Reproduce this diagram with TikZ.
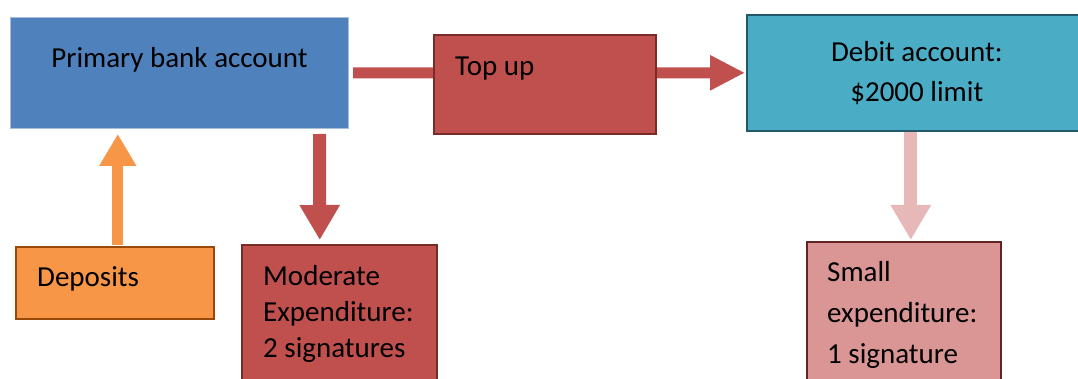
\documentclass[tikz,border=0pt]{standalone}
\usepackage{fontspec}
\setmainfont{Carlito}
\usetikzlibrary{arrows.meta, positioning, backgrounds}
\definecolor{primaryblue}{HTML}{4F81BD}
\definecolor{primaryline}{HTML}{A7BFDE}
\definecolor{topupred}{HTML}{C0504D}
\definecolor{redline}{HTML}{772C2A}
\definecolor{debitteal}{HTML}{4BACC6}
\definecolor{tealline}{HTML}{215968}
\definecolor{depositorange}{HTML}{F79646}
\definecolor{orangeline}{HTML}{984807}
\definecolor{smallpink}{HTML}{D99694}
\definecolor{pinkline}{HTML}{632523}
\definecolor{pinkflow}{HTML}{E6B9B8}
\tikzset{
account/.style = { rectangle, draw = #1, line width = 1.6pt, inner sep = 0pt, anchor = north west },
box text/.style = { inner sep = 0pt, font = \fontsize{29}{36}\selectfont },
flow/.style = { draw = #1, line width = 12pt },
}

\begin{document}
\begin{tikzpicture}[x = 1pt, y = 1pt]
      \useasboundingbox (0, 0) rectangle (1078, -379);
      \clip (0, 0) rectangle (1078, -379);
      % boxes
      \node[account = primaryline, line width = 1pt, fill = primaryblue, minimum width = 338, minimum height = 111] (primary) at (10, -17) {};
      \node[account = redline, fill = topupred, minimum width = 222, minimum height = 99] (topup) at (433, -34) {};
      \node[account = tealline, fill = debitteal, minimum width = 340, minimum height = 116] (debit) at (746, -14) {};
      \node[account = orangeline, fill = depositorange, minimum width = 198, minimum height = 72] (deposits) at (15, -246) {};
      \node[account = redline, fill = topupred, minimum width = 195, minimum height = 150] (moderate) at (241, -244) {};
      \node[account = pinkline, fill = smallpink, minimum width = 194, minimum height = 150] (small) at (806, -241) {};
      % texts (base of a multi-line node is its last line)
      \node[box text, anchor = base] at ([yshift = -51]primary.north) {Primary bank account};
      \node[box text, anchor = base west] at ([shift = {(22, -42)}]topup.north west) {Top up};
      \node[box text, anchor = base, align = center, font = \fontsize{29}{40}\selectfont] at ([yshift = -88]debit.north) {Debit account:\\\$2000 limit};
      \node[box text, anchor = base west] at ([shift = {(22, -40)}]deposits.north west) {Deposits};
      \node[box text, anchor = base west, align = left] at ([shift = {(22, -113)}]moderate.north west) {Moderate\\Expenditure:\\2 signatures};
      \node[box text, anchor = base west, align = left, font = \fontsize{29}{41}\selectfont] at ([shift = {(21, -122)}]small.north west) {Small\\expenditure:\\1 signature};
      % arrows
      \begin{scope}[on background layer]
      \draw[flow = topupred, line width = 11pt, -{Triangle[length = 35pt, width = 33pt]}, shorten <= 4pt, shorten >= 1pt] (primary.east) -- (debit.west);
      \draw[flow = topupred, line width = 13pt, -{Triangle[length = 35pt, width = 38pt]}, shorten <= 5pt, shorten >= 4pt] ([xshift = 140]primary.south) -- ([xshift = -19.5]moderate.north);
      \draw[flow = depositorange, line width = 11pt, -{Triangle[length = 32pt, width = 35pt]}, shorten <= 1pt, shorten >= 5pt] ([xshift = 3]deposits.north) -- ([xshift = 3]deposits.north |- primary.south);
      \draw[flow = pinkflow, line width = 13pt, -{Triangle[length = 35pt, width = 38pt]}, shorten >= 1pt] ([xshift = -6]debit.south) -- ([xshift = 7]small.north);
      \end{scope}
    \end{tikzpicture}
\end{document}
